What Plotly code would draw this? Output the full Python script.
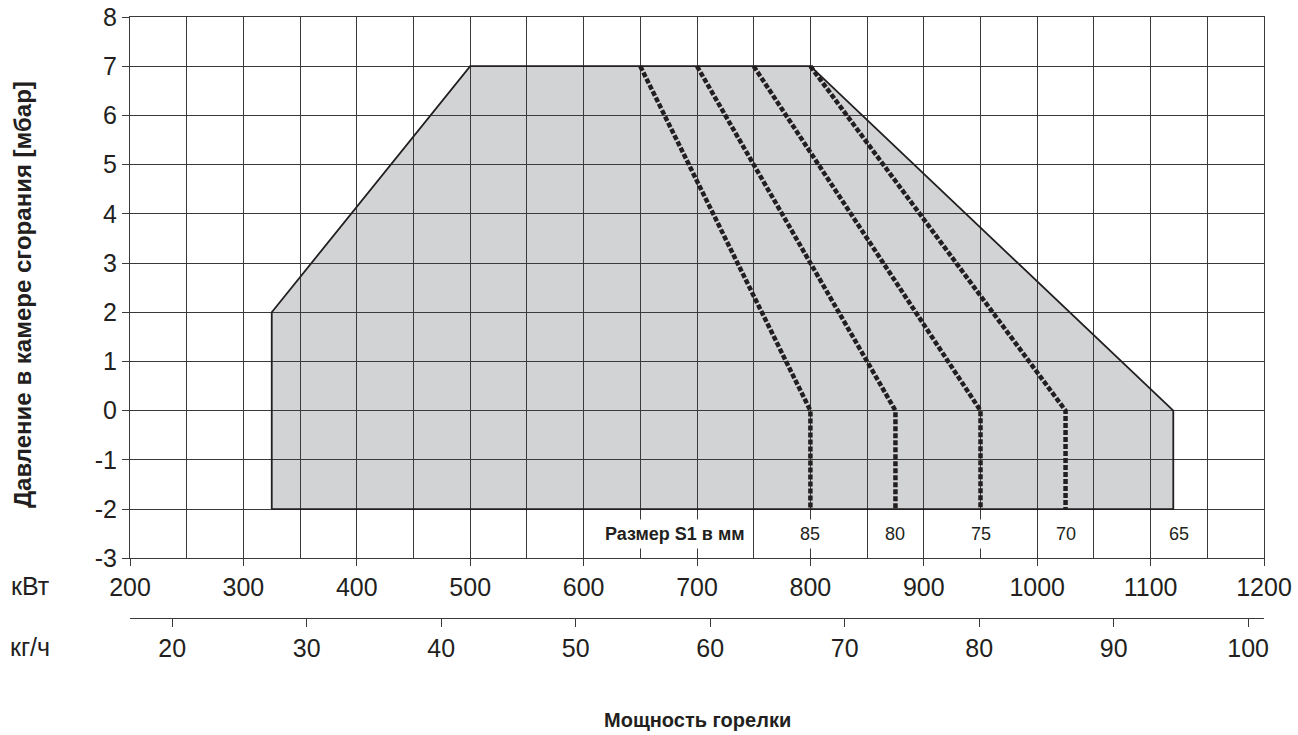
import plotly.graph_objects as go

# ---------------- data ----------------
kw_ticks = [200, 300, 400, 500, 600, 700, 800, 900, 1000, 1100, 1200]
kw_range = [200, 1200]
mbar_ticks = [-3, -2, -1, 0, 1, 2, 3, 4, 5, 6, 7, 8]
mbar_tick_labels = ["-3", "-2", "-1", "0", "1", "2", "3", "4", "5", "6", "7", "8"]
mbar_range = [-3, 8]
kgh_ticks = [20, 30, 40, 50, 60, 70, 80, 90, 100]
kwh_per_kg = 11.86  # light oil net calorific value

# working field envelope (kW, mbar)
env_kw = [325, 325, 500, 800, 1120, 1120, 325]
env_mbar = [-2, 2, 7, 7, 0, -2, -2]

# S1 size lines
s1_sizes = [85, 80, 75, 70, 65]
s1_label_kw = [800, 875, 950, 1025, 1125]
s1_top_kw = [650, 700, 750, 800]
s1_knee_kw = [800, 875, 950, 1025]
s1_top_mbar = 7
s1_knee_mbar = 0
s1_bottom_mbar = -2
s1_label_mbar = -2.5

FONT = "Liberation Sans, Arial, Helvetica, sans-serif"
INK = "#231f20"
GRID = "#3a3a3a"
FILL = "#d1d3d4"

fig = go.Figure()

# filled envelope as a shape below the grid
path = "M " + " L ".join(f"{x},{y}" for x, y in zip(env_kw, env_mbar)) + " Z"
fig.add_shape(type="path", path=path, xref="x", yref="y",
              fillcolor=FILL, line=dict(width=0), layer="below")

# envelope outline
fig.add_trace(go.Scatter(x=env_kw, y=env_mbar, mode="lines",
                         line=dict(color=INK, width=1.8),
                         hoverinfo="skip", showlegend=False))

# dashed S1 lines
for top, knee in zip(s1_top_kw, s1_knee_kw):
    fig.add_trace(go.Scatter(
        x=[top, knee, knee],
        y=[s1_top_mbar, s1_knee_mbar, s1_bottom_mbar],
        mode="lines",
        line=dict(color=INK, width=4.5, dash="5px,2px"),
        hoverinfo="skip", showlegend=False))

# invisible trace to carry the kg/h axis
fig.add_trace(go.Scatter(x=[kw_range[0] / kwh_per_kg, kw_range[1] / kwh_per_kg],
                         y=[None, None], xaxis="x2", yaxis="y",
                         mode="lines", showlegend=False, hoverinfo="skip"))

# S1 labels
fig.add_annotation(x=747, y=s1_label_mbar, xref="x", yref="y",
                   text="<b>Размер S1 в мм</b>", showarrow=False,
                   xanchor="right", yanchor="middle",
                   font=dict(family=FONT, size=18, color=INK),
                   bgcolor="white", borderpad=4)
for size, xk in zip(s1_sizes, s1_label_kw):
    fig.add_annotation(x=xk, y=s1_label_mbar, xref="x", yref="y",
                       text=str(size), showarrow=False,
                       xanchor="center", yanchor="middle",
                       font=dict(family=FONT, size=18, color=INK),
                       bgcolor="white", borderpad=4)

# unit labels and titles
fig.add_annotation(x=-0.088, y=0.1353, xref="paper", yref="paper", text="кВт",
                   showarrow=False, xanchor="center", yanchor="middle",
                   font=dict(family=FONT, size=25, color=INK))
fig.add_annotation(x=-0.088, y=0.0426, xref="paper", yref="paper", text="кг/ч",
                   showarrow=False, xanchor="center", yanchor="middle",
                   font=dict(family=FONT, size=25, color=INK))
fig.add_annotation(x=0.5, y=-0.068, xref="paper", yref="paper",
                   text="<b>Мощность горелки</b>",
                   showarrow=False, xanchor="center", yanchor="middle",
                   font=dict(family=FONT, size=20, color=INK))
fig.add_annotation(x=-0.0952, y=0.5775, xref="paper", yref="paper",
                   text="<b>Давление в камере сгорания [мбар]</b>", textangle=-90,
                   showarrow=False, xanchor="center", yanchor="middle",
                   font=dict(family=FONT, size=24, color=INK))

tick_font = dict(size=25, family=FONT, color=INK)

fig.update_layout(
    width=1298, height=735,
    margin=dict(l=130, r=34, t=17, b=60),
    paper_bgcolor="white", plot_bgcolor="white",
    font=dict(family=FONT, color=INK),
    showlegend=False,
    xaxis=dict(range=kw_range, tickvals=kw_ticks, ticks="outside", ticklen=7,
               tickcolor=GRID, tickwidth=1, automargin=False,
               showgrid=True, gridcolor=GRID, gridwidth=1,
               minor=dict(dtick=50, showgrid=True, gridcolor=GRID, gridwidth=1, ticks=""),
               showline=True, linecolor=GRID, linewidth=1, mirror=True,
               zeroline=False, tickfont=tick_font, anchor="y"),
    yaxis=dict(range=mbar_range, tickvals=mbar_ticks, ticktext=mbar_tick_labels,
               ticks="outside", ticklen=7,
               tickcolor=GRID, tickwidth=1, automargin=False,
               showgrid=True, gridcolor=GRID, gridwidth=1,
               showline=True, linecolor=GRID, linewidth=1, mirror=True,
               zeroline=False, tickfont=tick_font,
               domain=[0.1774, 1]),
    xaxis2=dict(range=[kw_range[0] / kwh_per_kg, kw_range[1] / kwh_per_kg],
                tickvals=kgh_ticks, ticks="outside", ticklen=8,
                tickcolor=GRID, tickwidth=1, automargin=False,
                showgrid=False, zeroline=False,
                showline=True, linecolor=GRID, linewidth=1,
                overlaying="x", anchor="free", position=0.0862, side="bottom",
                tickfont=tick_font),
)

fig.write_html("out.html", config={"displayModeBar": False},
               post_script="document.body.style.margin='0';")
